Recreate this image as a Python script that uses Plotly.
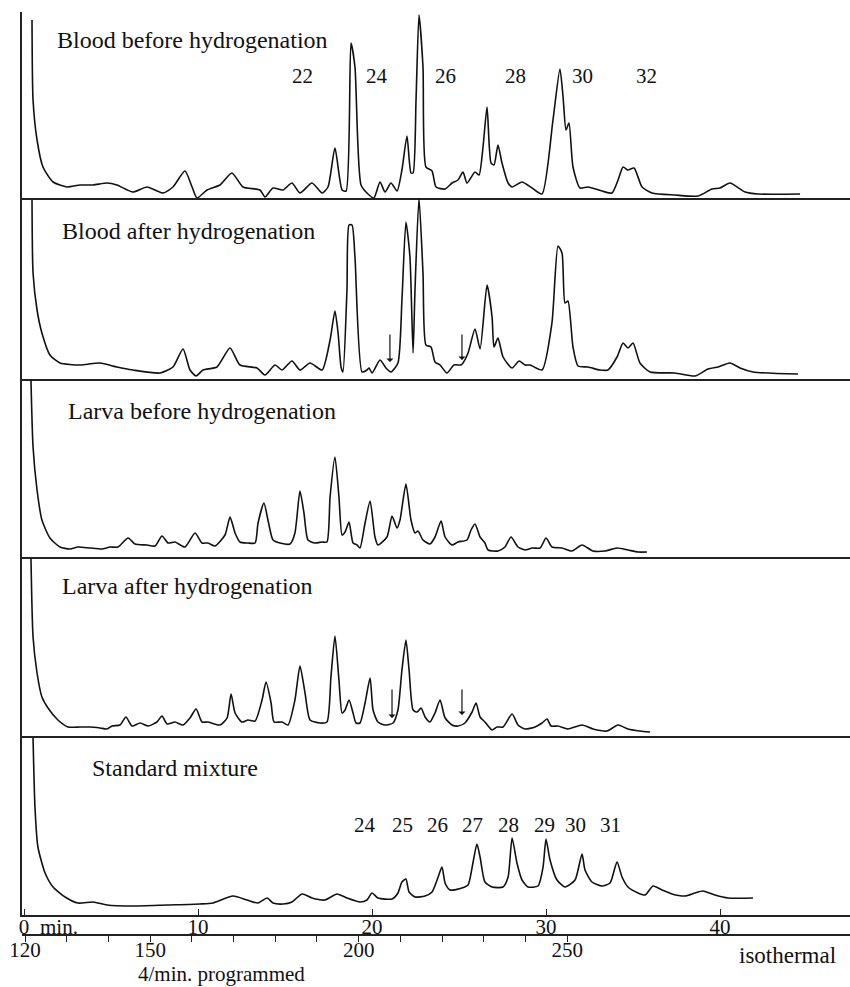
import plotly.graph_objects as go

# ---------------- data (retention time in min, detector response in arbitrary units) -------------
t_blood_before = [0.46, 0.52, 0.75, 1.09, 1.67, 2.47, 3.22, 3.97, 4.77, 5.34, 6.26, 7.07, 7.99, 8.56, 9.25, 9.66,
                  9.94, 10.52, 11.26, 11.95, 12.59, 13.56, 13.85, 14.31, 14.89, 15.40, 15.86, 16.55, 17.13, 17.47,
                  17.87, 18.28, 18.51, 18.79, 19.02, 19.37, 19.77, 20.11, 20.46, 20.75, 21.09, 21.44, 21.72, 22.01,
                  22.24, 22.36, 22.53, 22.70, 22.93, 23.10, 23.45, 23.68, 24.20, 24.60, 24.94, 25.23, 25.46, 25.92,
                  26.15, 26.38, 26.61, 26.84, 27.01, 27.24, 27.47, 27.82, 28.05, 28.62, 29.20, 29.77, 30.40, 30.80,
                  30.98, 31.15, 31.32, 31.55, 31.95, 32.41, 33.22, 33.79, 34.14, 34.43, 34.71, 35.06, 35.52, 36.09,
                  37.41, 38.74, 39.54, 40.00, 40.57, 41.44, 42.18, 44.60]
s_blood_before = [178, 98, 58, 31, 16, 11, 13, 13, 15, 13, 6, 11, 5, 11, 27, 11,
                  0, 8, 13, 25, 11, 8, 1, 10, 8, 15, 5, 15, 5, 11,
                  50, 8, 7, 155, 131, 13, 4, 0, 16, 6, 15, 7, 28, 62,
                  25, 25, 98, 183, 131, 31, 27, 11, 9, 15, 18, 26, 15, 26,
                  23, 51, 91, 35, 33, 53, 35, 15, 11, 16, 10, 4, 78, 129,
                  101, 68, 75, 31, 10, 11, 7, 5, 18, 31, 28, 30, 11, 5,
                  3, 2, 9, 10, 15, 6, 4, 4]

t_blood_after = [0.46, 0.52, 0.75, 1.03, 1.49, 2.07, 3.22, 4.37, 5.34, 6.26, 7.82, 8.56, 9.14, 9.54, 9.89, 10.29,
                 11.09, 11.84, 12.41, 13.39, 13.85, 14.43, 14.83, 15.40, 15.86, 16.44, 17.13, 17.59, 17.87, 18.05,
                 18.22, 18.33, 18.56, 18.68, 18.85, 19.02, 19.43, 19.71, 19.83, 20.00, 20.46, 20.80, 21.09, 21.49,
                 21.72, 21.95, 22.18, 22.36, 22.47, 22.70, 22.93, 23.10, 23.39, 23.62, 23.91, 24.31, 24.71, 25.11,
                 25.23, 25.52, 25.92, 26.21, 26.61, 26.90, 27.01, 27.24, 27.53, 28.05, 28.45, 28.79, 29.08, 29.77,
                 30.34, 30.69, 30.92, 31.09, 31.26, 31.55, 31.84, 32.41, 33.10, 33.56, 34.08, 34.43, 34.71, 35.00,
                 35.40, 35.98, 37.41, 38.56, 39.31, 39.89, 40.57, 41.15, 41.90, 44.48]
s_blood_after = [179, 106, 69, 46, 24, 16, 14, 16, 12, 9, 6, 12, 30, 9, 3, 9,
                 12, 31, 14, 11, 4, 14, 9, 18, 9, 16, 9, 39, 68, 46,
                 12, 7, 89, 154, 154, 122, 7, 9, 11, 6, 19, 11, 7, 16,
                 79, 157, 122, 26, 89, 181, 106, 34, 32, 17, 14, 6, 14, 14,
                 16, 26, 50, 30, 94, 62, 32, 41, 22, 11, 18, 14, 14, 9,
                 56, 133, 126, 76, 78, 32, 13, 12, 9, 9, 22, 36, 31, 36,
                 16, 7, 6, 3, 10, 12, 16, 11, 7, 5]

t_larva_before = [0.40, 0.52, 0.75, 1.03, 1.49, 2.07, 2.64, 3.10, 3.79, 4.48, 4.94, 5.40, 5.98, 6.38, 7.07, 7.53,
                  7.93, 8.28, 8.68, 9.25, 9.83, 10.23, 10.57, 10.98, 11.55, 11.84, 12.13, 12.41, 12.87, 13.28,
                  13.45, 13.79, 14.02, 14.31, 14.71, 15.29, 15.57, 15.86, 16.09, 16.32, 16.72, 17.13, 17.41, 17.59,
                  17.87, 18.10, 18.28, 18.45, 18.68, 18.91, 19.14, 19.31, 19.60, 19.89, 20.17, 20.34, 20.86, 21.15,
                  21.44, 21.61, 21.95, 22.24, 22.47, 22.64, 22.93, 23.33, 23.62, 23.97, 24.20, 24.60, 24.94, 25.46,
                  25.69, 25.92, 26.21, 26.49, 26.67, 27.24, 27.64, 27.99, 28.39, 28.79, 29.20, 29.66, 30.00, 30.34,
                  30.92, 31.49, 32.07, 32.70, 33.39, 34.08, 34.71, 35.29, 35.80]
s_larva_before = [177, 110, 67, 37, 19, 10, 8, 10, 9, 8, 10, 10, 19, 13, 12, 11,
                  21, 14, 15, 10, 24, 14, 14, 11, 22, 40, 24, 15, 14, 14,
                  34, 54, 37, 17, 14, 13, 24, 66, 44, 17, 14, 15, 15, 60,
                  100, 60, 22, 25, 35, 14, 12, 9, 34, 56, 20, 12, 20, 41,
                  29, 37, 73, 37, 24, 26, 17, 13, 20, 36, 20, 12, 15, 17,
                  27, 33, 20, 14, 7, 6, 10, 20, 10, 7, 9, 9, 19, 10,
                  9, 6, 12, 6, 6, 9, 7, 5, 5]

t_larva_after = [0.40, 0.52, 0.75, 1.03, 1.38, 1.95, 2.53, 3.22, 3.79, 4.37, 4.77, 5.06, 5.52, 5.86, 6.21, 6.67,
                 7.13, 7.64, 7.93, 8.22, 8.68, 9.14, 9.54, 9.89, 10.23, 10.57, 11.26, 11.67, 11.90, 12.13, 12.53,
                 12.87, 13.28, 13.68, 13.91, 14.20, 14.37, 14.83, 15.17, 15.57, 15.86, 16.15, 16.44, 17.01, 17.41,
                 17.64, 17.87, 18.10, 18.28, 18.45, 18.68, 18.91, 19.08, 19.31, 19.60, 19.89, 20.06, 20.34, 20.75,
                 21.21, 21.49, 21.72, 21.95, 22.13, 22.36, 22.59, 22.82, 23.05, 23.33, 23.62, 23.91, 24.20, 24.60,
                 24.94, 25.34, 25.75, 25.98, 26.21, 26.49, 26.90, 27.18, 27.53, 28.05, 28.39, 28.79, 29.37, 29.77,
                 30.06, 30.29, 30.69, 31.26, 32.07, 32.70, 33.51, 34.14, 34.71, 35.40, 35.98]
s_larva_after = [178, 99, 63, 39, 28, 16, 9, 9, 9, 8, 7, 10, 11, 19, 10, 13,
                 10, 14, 20, 12, 14, 11, 18, 27, 14, 14, 11, 18, 42, 23, 14,
                 16, 15, 36, 54, 33, 14, 14, 11, 36, 70, 43, 16, 13, 14,
                 59, 100, 56, 23, 26, 36, 23, 13, 13, 33, 58, 26, 14, 11,
                 13, 26, 66, 96, 66, 26, 24, 28, 19, 14, 23, 36, 18, 11,
                 10, 13, 24, 33, 19, 14, 6, 9, 9, 22, 11, 7, 9, 13,
                 17, 10, 10, 7, 11, 7, 5, 11, 7, 5, 4]

t_standard = [0.52, 0.63, 0.80, 1.21, 1.67, 2.36, 3.10, 3.97, 4.77, 6.26, 8.22, 10.11, 10.86, 12.01, 12.82, 13.45,
              13.97, 14.31, 14.89, 15.40, 15.98, 16.55, 17.30, 17.99, 18.56, 19.31, 19.71, 20.00, 20.34, 21.15,
              21.49, 21.72, 21.95, 22.13, 22.47, 23.05, 23.45, 23.74, 24.02, 24.20, 24.48, 25.17, 25.52, 25.80,
              26.03, 26.21, 26.49, 26.90, 27.53, 27.82, 28.05, 28.33, 28.62, 28.97, 29.54, 29.83, 30.00, 30.23,
              30.63, 31.09, 31.67, 32.07, 32.24, 32.64, 33.22, 33.68, 34.08, 34.37, 34.71, 35.29, 35.69, 36.15,
              36.67, 37.24, 37.99, 38.56, 39.02, 39.71, 40.46, 41.90]
s_standard = [177, 108, 68, 42, 28, 18, 12, 13, 10, 9, 10, 11, 12, 19, 15, 12,
              17, 12, 11, 13, 21, 17, 15, 21, 17, 13, 15, 22, 17, 16,
              22, 33, 36, 23, 18, 19, 23, 35, 48, 32, 25, 27, 30, 52,
              71, 58, 33, 28, 28, 38, 77, 52, 35, 28, 29, 48, 76, 55,
              35, 28, 35, 61, 45, 33, 29, 32, 53, 38, 28, 22, 20, 29,
              25, 21, 19, 22, 24, 20, 17, 17]

panel_titles = ["Blood before hydrogenation", "Blood after hydrogenation", "Larva before hydrogenation",
                "Larva after hydrogenation", "Standard mixture"]

blood_peak_labels = ["22", "24", "26", "28", "30", "32"]
blood_peak_times = [15.98, 20.29, 24.20, 28.22, 32.07, 35.80]
std_peak_labels = ["24", "25", "26", "27", "28", "29", "30", "31"]
std_peak_times = [19.60, 21.78, 23.79, 25.75, 27.82, 29.89, 31.67, 33.68]

# arrows (panel index, time, tip response, tail response)
arrow_marks = [(2, 21.03, 17, 46), (2, 25.17, 19, 46), (4, 21.15, 18, 48), (4, 25.17, 21, 48)]

time_ticks = [0, 10, 20, 30, 40]
temp_ticks = [120, 130, 140, 150, 160, 170, 180, 190, 200, 210, 220, 230, 240, 250]
temp_labels = ["120", "", "", "150", "", "", "", "", "200", "", "", "", "", "250"]

# ---------------- figure -------------------------------------------------
FONT = "Liberation Serif"
INK = "#111111"

series = [(t_blood_before, s_blood_before), (t_blood_after, s_blood_after),
          (t_larva_before, s_larva_before), (t_larva_after, s_larva_after),
          (t_standard, s_standard)]

top_m, bot_m = 12, 52
H = 987
ph = H - top_m - bot_m
panels_px = [(12, 198), (198, 379), (379, 557), (557, 736), (736, 915)]
yranges = [186, 181, 178, 179, 179]

fig = go.Figure()
for i, (tt, ss) in enumerate(series):
    k = "" if i == 0 else str(i + 1)
    fig.add_trace(go.Scatter(x=tt, y=ss, mode="lines", xaxis="x" + k, yaxis="y" + k,
                             line=dict(color=INK, width=1.6, shape="spline", smoothing=0.6),
                             hoverinfo="skip", showlegend=False))

fig.add_trace(go.Scatter(x=[120, 250], y=[None, None], xaxis="x6", yaxis="y5", mode="lines",
                         showlegend=False, hoverinfo="skip"))

layout = dict(width=850, height=987, paper_bgcolor="white", plot_bgcolor="white",
              margin=dict(l=22, r=0, t=top_m, b=bot_m, autoexpand=False),
              font=dict(family=FONT, size=22, color=INK), showlegend=False)

xr = [-0.115, 47.47]
for i, (pt, pb) in enumerate(panels_px):
    k = "" if i == 0 else str(i + 1)
    d0 = (H - bot_m - pb) / ph
    d1 = min(1.0, (H - bot_m - pt) / ph)
    xa = dict(range=xr, showline=True, linecolor="#222", linewidth=1.5, showgrid=False,
              zeroline=False, anchor="y" + k, showticklabels=False, ticks="", automargin=False)
    if i > 0:
        xa["matches"] = "x"
    if i == 4:
        xa.update(showticklabels=True, ticks="inside", ticklen=6, tickcolor="#222",
                  tickvals=time_ticks, ticktext=[str(v) for v in time_ticks],
                  tickfont=dict(family=FONT, size=21, color=INK), ticklabelstandoff=-8)
    ya = dict(domain=[d0, d1], range=[0, yranges[i]], showline=True, linecolor="#222", linewidth=1.5,
              showgrid=False, zeroline=False, showticklabels=False, ticks="", anchor="x" + k,
              automargin=False)
    layout["xaxis" + k] = xa
    layout["yaxis" + k] = ya

layout["xaxis6"] = dict(overlaying="x5", anchor="free", position=0, side="bottom",
                        range=[119.28, 317.8], showline=True, linecolor="#222", linewidth=1.5,
                        showgrid=False, zeroline=False, ticks="outside", ticklen=6, tickcolor="#222",
                        tickvals=temp_ticks, ticktext=temp_labels, automargin=False,
                        ticklabelstandoff=-10,
                        tickfont=dict(family=FONT, size=21, color=INK))
fig.update_layout(**layout)

ann = []
title_pos = [(1.78, 158), (2.07, 148), (2.41, 146), (2.07, 150), (3.79, 147)]
for i, txt in enumerate(panel_titles):
    k = "" if i == 0 else str(i + 1)
    ann.append(dict(text=txt, x=title_pos[i][0], y=title_pos[i][1], xref="x" + k, yref="y" + k,
                    xanchor="left", yanchor="middle", showarrow=False, font=dict(size=24)))
for lab, t in zip(blood_peak_labels, blood_peak_times):
    ann.append(dict(text=lab, x=t, y=122, xref="x", yref="y", showarrow=False, font=dict(size=21)))
for lab, t in zip(std_peak_labels, std_peak_times):
    ann.append(dict(text=lab, x=t, y=90, xref="x5", yref="y5", showarrow=False, font=dict(size=21)))
for p, t, tip, tail in arrow_marks:
    k = str(p)
    ann.append(dict(text="", x=t, y=tip, ax=t, ay=tail, xref="x" + k, yref="y" + k,
                    axref="x" + k, ayref="y" + k, showarrow=True, arrowhead=1, arrowsize=1,
                    arrowwidth=1.2, arrowcolor=INK))
# texts below the plotting area (paper coordinates)
ann.append(dict(text="min.", x=0.0447, y=0.0087, xref="paper", yref="paper", showarrow=False,
                xanchor="center", yanchor="middle", font=dict(size=21)))
ann.append(dict(text="isothermal", x=0.925, y=-0.0217, xref="paper", yref="paper", showarrow=False,
                xanchor="center", yanchor="middle", font=dict(size=23)))
ann.append(dict(text="4/min. programmed", x=0.2415, y=-0.0423, xref="paper", yref="paper",
                xanchor="center", yanchor="middle", showarrow=False, font=dict(size=21)))
fig.update_layout(annotations=ann)

fig.write_html("out.html", config={"displayModeBar": False},
               post_script="document.body.style.margin='0';document.body.style.overflow='hidden';")
